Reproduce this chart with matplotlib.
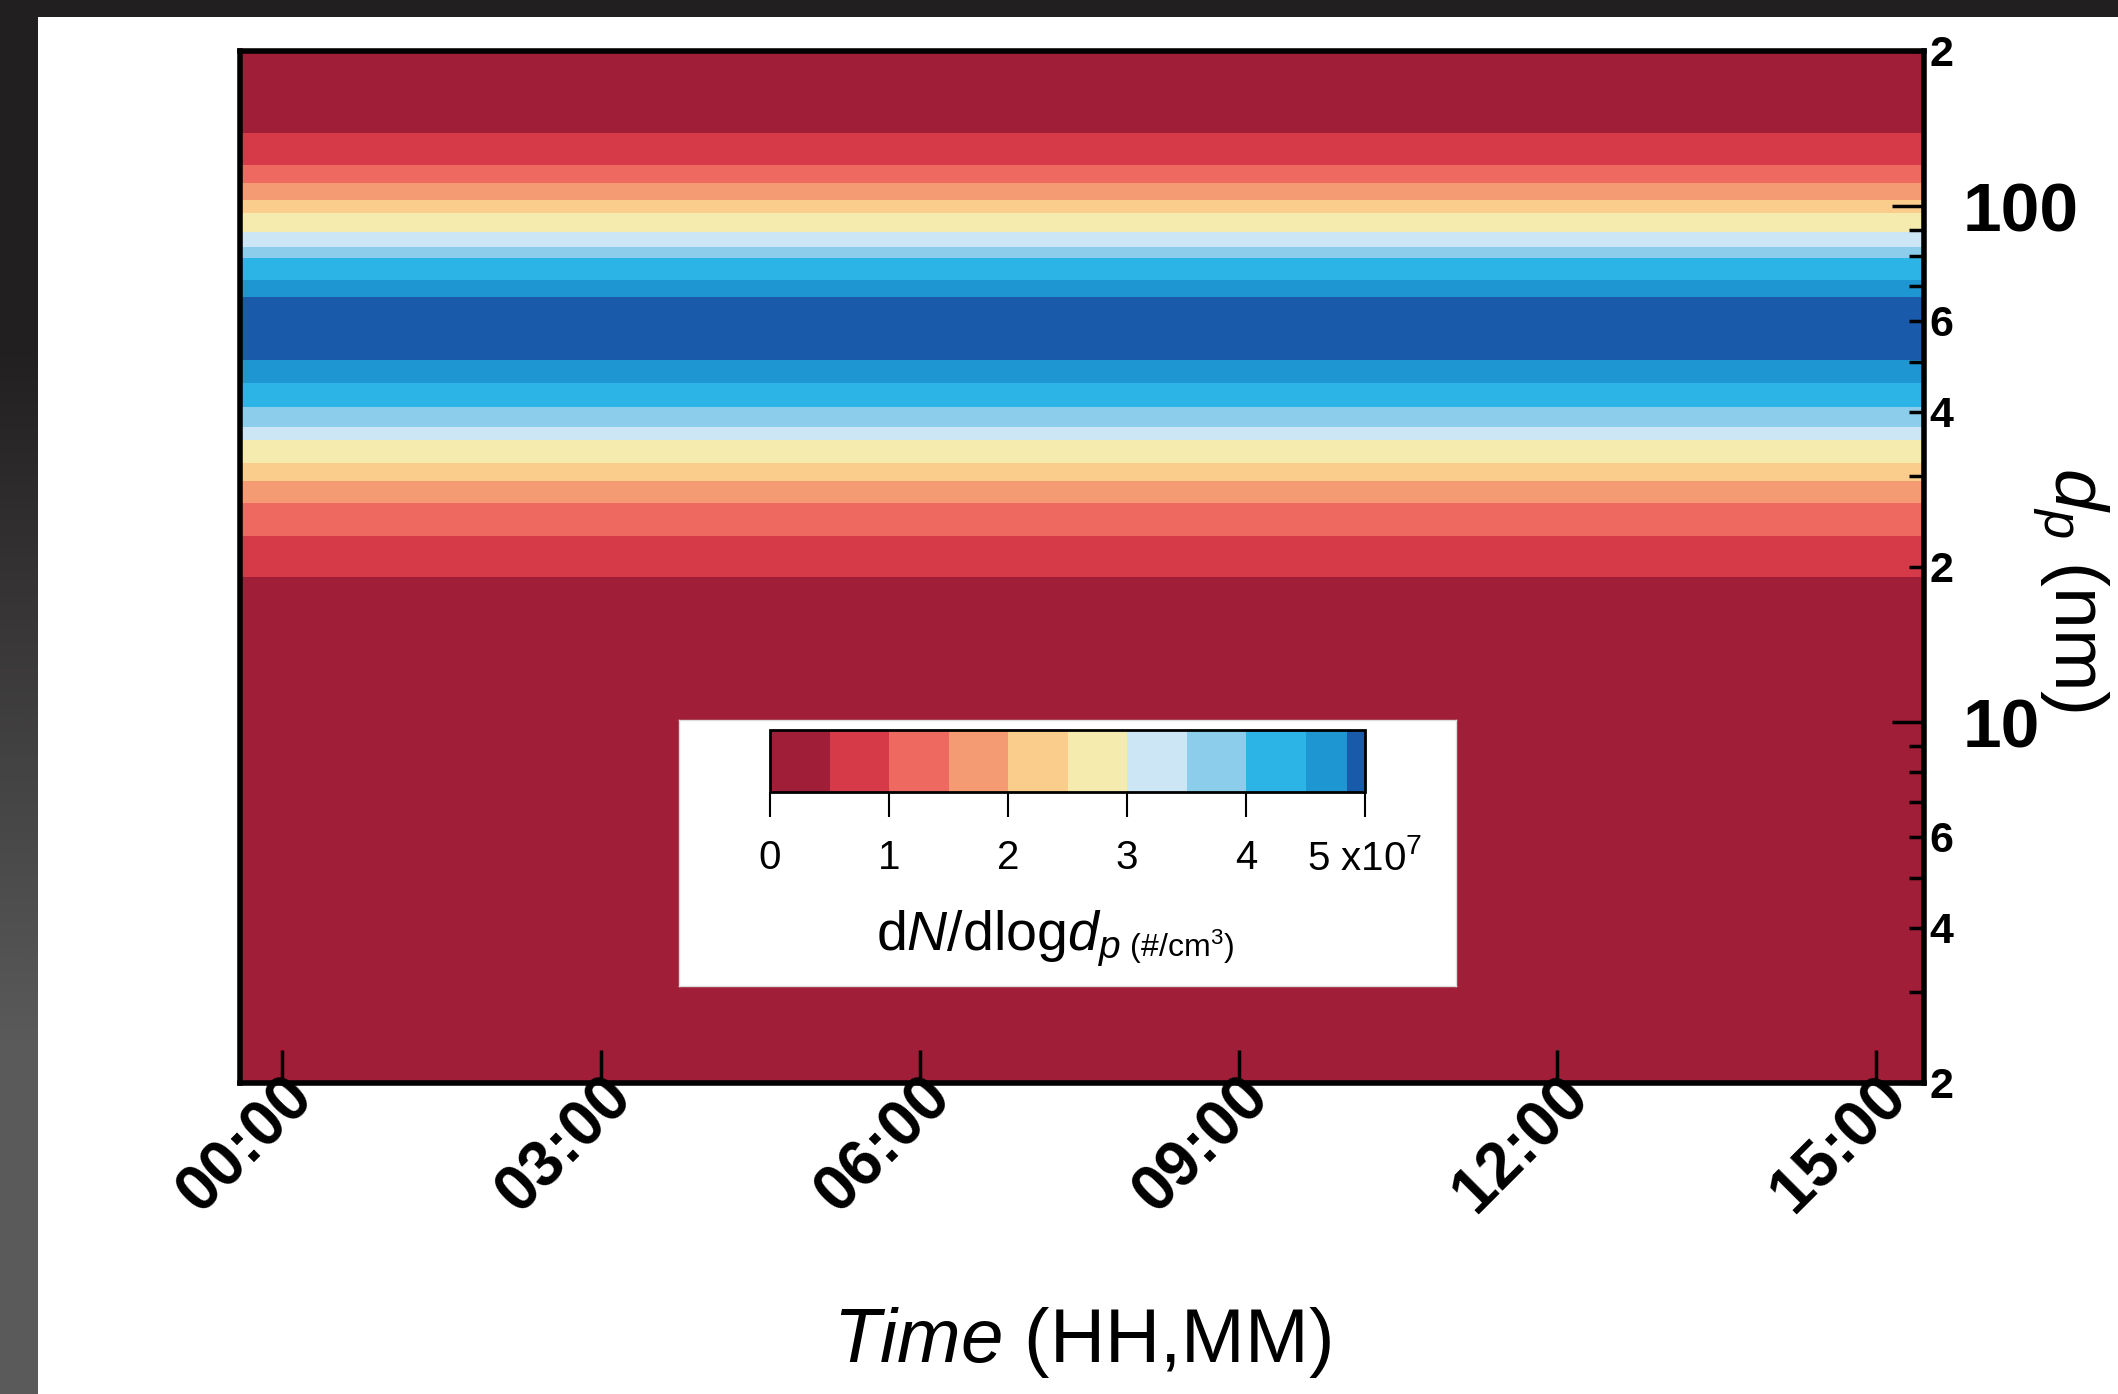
import numpy as np
import matplotlib
matplotlib.use('Agg')
import matplotlib.pyplot as plt
from matplotlib import font_manager
from matplotlib.colors import LinearSegmentedColormap
from matplotlib.patches import Rectangle
from matplotlib.ticker import FixedLocator, FixedFormatter

plt.rcParams['font.family'] = ['Liberation Sans', 'DejaVu Sans']
plt.rcParams['mathtext.fontset'] = 'custom'
plt.rcParams['mathtext.rm'] = 'Liberation Sans'
plt.rcParams['mathtext.it'] = 'Liberation Sans:italic'
plt.rcParams['mathtext.bf'] = 'Liberation Sans:bold'

# size distribution (same at all times)
dp_nm = [2, 5, 10, 15, 18.5, 19.1, 23.0, 26.6, 29.4, 31.8, 35.2, 37.3, 40.8, 45.4,
         50.3, 58.0, 66.6, 71.9, 79.3, 83.3, 89.0, 96.9, 102.7, 110.8, 120.1, 138.5,
         160, 200]
dNdlogdp = [0.05, 0.08, 0.12, 0.2, 0.3, 0.5, 1.0, 1.5, 2.0, 2.5, 3.0, 3.5, 4.0, 4.5,
            4.85, 4.95, 4.85, 4.5, 4.0, 3.5, 3.0, 2.5, 2.0, 1.5, 1.0, 0.5,
            0.3, 0.1]   # x 1e7 #/cm3
t_hours = [-0.40, 15.45]

levels = [0, 0.5, 1.0, 1.5, 2.0, 2.5, 3.0, 3.5, 4.0, 4.5, 4.85, 5.0]
colors = ['#a01e37', '#d63a48', '#ee695f', '#f59b73', '#facd8c', '#f5ebaf',
          '#cde6f5', '#8ccdeb', '#2db4e6', '#1e96d2', '#1a5aaa']

t_ticks = [0, 3, 6, 9, 12, 15]
t_labels = ['00:00', '03:00', '06:00', '09:00', '12:00', '15:00']

W, H = 2118, 1394
fig = plt.figure(figsize=(W / 100, H / 100), dpi=100)
fig.patch.set_facecolor('white')

# dark frame round the picture
fig.add_artist(Rectangle((0, 1 - 17 / H), 1, 17 / H, transform=fig.transFigure,
                         facecolor='#221f20', edgecolor='none'))
ax_l = fig.add_axes([0, 0, 38 / W, 1])
ax_l.imshow([[0.0], [1.0]], aspect='auto', interpolation='bilinear',
            cmap=LinearSegmentedColormap.from_list('g', ['#221f20', '#5a5a5a']),
            extent=(0, 1, 0, 1))
ax_l.axis('off')

ax = fig.add_axes([240 / W, 1 - 1083 / H, 1684 / W, 1032 / H])
Z = np.array([dNdlogdp, dNdlogdp]).T
cf = ax.contourf(t_hours, dp_nm, Z, levels=levels, colors=colors)
ax.set_yscale('log')
ax.set_ylim(2, 200)
ax.set_xlim(-0.40, 15.45)

ax.yaxis.tick_right()
ax.yaxis.set_major_locator(FixedLocator([10, 100]))
ax.yaxis.set_major_formatter(FixedFormatter(['10', '100']))
minor = [2, 3, 4, 5, 6, 7, 8, 9, 20, 30, 40, 50, 60, 70, 80, 90, 200]
minor_lab = ['2', '', '4', '', '6', '', '', '', '2', '', '4', '', '6', '', '', '', '2']
ax.yaxis.set_minor_locator(FixedLocator(minor))
ax.yaxis.set_minor_formatter(FixedFormatter(minor_lab))
ax.tick_params(axis='y', which='major', direction='in', length=23, width=2.5,
               labelsize=50, pad=28, left=False, right=True)
ax.tick_params(axis='y', which='minor', direction='in', length=11, width=2.5,
               labelsize=31, pad=4, left=False, right=True)
for lab in ax.get_yticklabels() + ax.get_yticklabels(minor=True):
    lab.set_fontweight('bold')

ax.set_xticks(t_ticks)
ax.set_xticklabels(t_labels, rotation=45, ha='right', rotation_mode='anchor',
                   fontsize=46, fontweight='bold')
ax.tick_params(axis='x', direction='in', length=24, width=2.5, pad=-12, top=False)
for s in ax.spines.values():
    s.set_linewidth(4)

fig.text(1082 / W, 1 - 1342 / H, r'$\mathit{Time}$ (HH,MM)', fontsize=55,
         ha='center', va='center')
fig.text(2070 / W, 1 - 590 / H, r'$d_p$ (nm)', fontsize=54, rotation=270,
         ha='center', va='center')

# colour bar in a white box inside the plot
box = fig.add_axes([679 / W, 1 - 986 / H, 777 / W, 266 / H])
box.set_facecolor('white')
box.set_xticks([])
box.set_yticks([])
for s in box.spines.values():
    s.set_color('#dddddd')
    s.set_linewidth(1)

names = {f.name for f in font_manager.fontManager.ttflist}
narrow = 'Liberation Sans Narrow' if 'Liberation Sans Narrow' in names else 'Liberation Sans'

cax = fig.add_axes([770 / W, 1 - 792 / H, 595 / W, 62 / H])
cb = fig.colorbar(cf, cax=cax, orientation='horizontal', spacing='proportional',
                  ticks=[0, 1, 2, 3, 4, 5])
cb.ax.set_xticklabels(['0', '1', '2', '3', '4', r'5 x10$^7$'], family=narrow)
cb.ax.tick_params(direction='out', length=18, width=1.5, pad=16, labelsize=29)
cb.outline.set_linewidth(2)

t1 = fig.text(876 / W, 1 - 950 / H, r'd$N$/dlog$d_p$', fontsize=40, family=narrow,
              ha='left', va='baseline')
box.annotate(r' (#/cm$^3$)', xy=(1, 0.05), xycoords=t1, fontsize=23, family=narrow,
             ha='left', va='bottom')

fig.savefig('out.png', dpi=100)
